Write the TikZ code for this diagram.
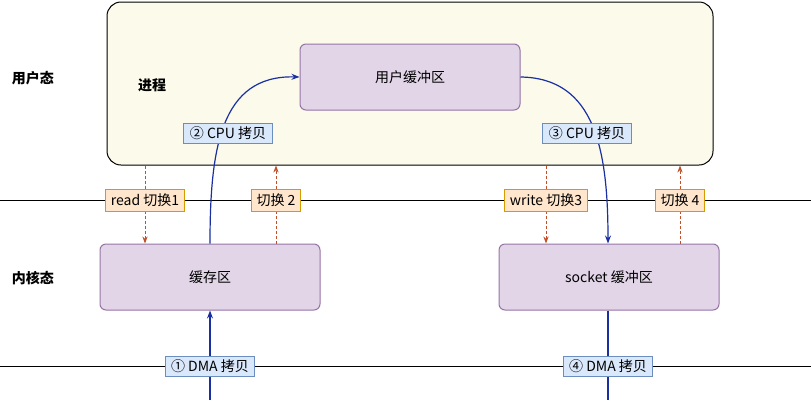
\documentclass[tikz,border=0pt]{standalone}
\usepackage{fontspec}
\setmainfont{Noto Sans CJK SC}
\usetikzlibrary{arrows.meta}
\definecolor{cream}{HTML}{FBFAEB}
\definecolor{pfill}{HTML}{E1D5E7}
\definecolor{pdraw}{HTML}{9673A6}
\definecolor{bfill}{HTML}{DAE8FC}
\definecolor{bdraw}{HTML}{6C8EBF}
\definecolor{ofill}{HTML}{FFE6CC}
\definecolor{odraw}{HTML}{D79B00}
\definecolor{dred}{HTML}{C0502A}
\definecolor{blu}{HTML}{1A2FA0}
\begin{document}
\begin{tikzpicture}[x=1pt,y=-1pt,font=\fontsize{14}{16}\selectfont,line width=1pt,
 buf/.style={draw=pdraw,fill=pfill,rounded corners=6pt,minimum width=220pt,minimum height=66pt},
 cpu/.style={draw=bdraw,fill=bfill,inner xsep=6pt,inner ysep=2pt,minimum height=20pt},
 sw/.style={draw=odraw,fill=ofill,inner xsep=5pt,inner ysep=2pt,minimum height=22pt},
 sarrow/.style={dred,densely dashed,-{Stealth[length=7pt]}},
 bl/.style={blu,line width=1.2pt,-{Stealth[length=8pt]}}]
\useasboundingbox (0,0) rectangle (811,400);
\node[draw=black,fill=cream,rounded corners=14pt,minimum width=606pt,minimum height=163pt] (proc) at (410,83.5) {};
\draw (0,200) coordinate (l1) -- (811,200) coordinate (r1);
\draw (0,366) coordinate (l2) -- (811,366) coordinate (r2);
\node[font=\fontsize{14}{16}\selectfont\bfseries] (us) at (33,78) {用户态};
\node[font=\fontsize{14}{16}\selectfont\bfseries] (ks) at (33,278) {内核态};
\node[font=\fontsize{14}{16}\selectfont\bfseries] (jc) at (152,85) {进程};
\node[buf] (ub) at (410,77) {用户缓冲区};
\node[buf] (cb) at (210,277) {缓存区};
\node[buf] (sb) at (609,277) {socket 缓冲区};
\coordinate (b1) at (210,400);
\coordinate (b2) at (608,400);
\coordinate (x1) at (145,0);
\coordinate (x2) at (276,0);
\coordinate (x3) at (546,0);
\coordinate (x4) at (680,0);
\draw[bl] (b1) -- (cb.south);
\draw[blu,line width=1.2pt] (b2 |- sb.south) -- (b2);
\draw[bl] (cb.north) .. controls (210,150) and (220,75) .. (ub.west);
\draw[bl] (ub.east) .. controls (595,78) and (608,150) .. (b2 |- sb.north);
\draw[sarrow] (x1 |- proc.south) -- (x1 |- cb.north);
\draw[sarrow] (x2 |- cb.north) -- (x2 |- proc.south);
\draw[sarrow] (x3 |- proc.south) -- (x3 |- sb.north);
\draw[sarrow] (x4 |- sb.north) -- (x4 |- proc.south);
\node[cpu] (c2) at (228,133) {② CPU 拷贝};
\node[cpu] (c3) at (587,133) {③ CPU 拷贝};
\node[sw] (s1) at (145,200) {read 切换1};
\node[sw] (s2) at (276,200) {切换 2};
\node[sw] (s3) at (546,200) {write 切换3};
\node[sw] (s4) at (680,200) {切换 4};
\node[cpu] (d1) at (210,366) {① DMA 拷贝};
\node[cpu] (d4) at (608,366) {④ DMA 拷贝};
\end{tikzpicture}
\end{document}
